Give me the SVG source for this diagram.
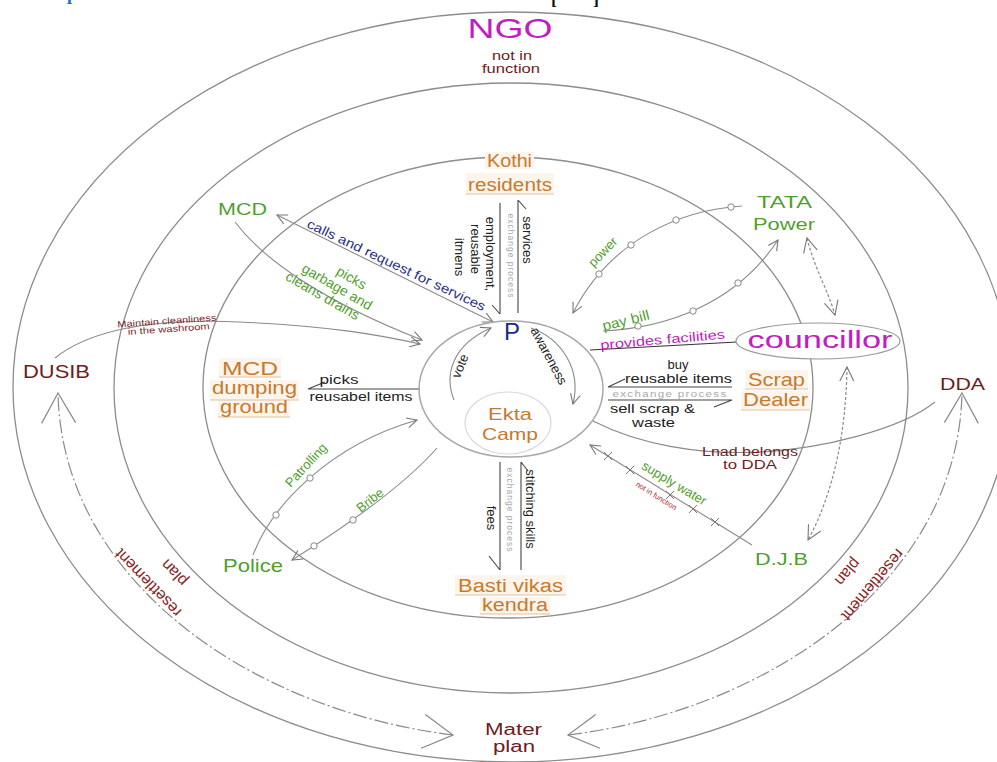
<svg xmlns="http://www.w3.org/2000/svg" width="997" height="762" viewBox="0 0 997 762">
<style>
text{font-family:"Liberation Sans",Arial,sans-serif}
.sf{font-family:"Liberation Serif","Times New Roman",serif;font-weight:bold}
.ring{fill:none;stroke:#8c8c8c;stroke-width:1.3}
.ln{fill:none;stroke:#8a8a8a;stroke-width:1.1}
.dk{fill:none;stroke:#444;stroke-width:1.1}
.dash{fill:none;stroke:#8a8a8a;stroke-width:1.2;stroke-dasharray:3 2}
.dd{fill:none;stroke:#8a8a8a;stroke-width:1.2;stroke-dasharray:14 3 2 3}
.dot{fill:#fff;stroke:#888;stroke-width:1}
.x{fill:none;stroke:#777;stroke-width:1}
.g{fill:#4f9f2f}
.o{fill:#c77a2c}
.r{fill:#6e1c1c}
.rr{fill:#8a2424}
.m{fill:#c21cc2}
.k{fill:#222}
.bl{fill:#1d2a8c}
.ex{fill:#aaa;font-size:8.5px;letter-spacing:1px}
.hl{fill:#fdf5ec}
.ul{stroke:#dfc2a2;stroke-width:1.1}
</style>
<defs>
<marker id="a" viewBox="0 0 12 12" refX="11" refY="6" markerWidth="12" markerHeight="12" markerUnits="userSpaceOnUse" orient="auto-start-reverse"><path d="M1,1 L11,6 L1,11" fill="none" stroke="#777" stroke-width="1.1"/></marker>
<marker id="m" viewBox="0 0 16 16" refX="15" refY="8" markerWidth="16" markerHeight="16" markerUnits="userSpaceOnUse" orient="auto-start-reverse"><path d="M1,1 L15,8 L1,15" fill="none" stroke="#777" stroke-width="1.1"/></marker>
<marker id="b" viewBox="0 0 32 40" refX="31" refY="20" markerWidth="32" markerHeight="40" markerUnits="userSpaceOnUse" orient="auto-start-reverse"><path d="M1,3 L31,20 L1,37" fill="none" stroke="#888" stroke-width="1.2"/></marker>
</defs>
<rect width="997" height="762" fill="#fff"/>
<text class="sf" x="67" y="0" font-size="18" fill="#1a6fc4">p</text>
<text class="sf" x="551" y="4" font-size="18" fill="#111">[</text>
<text class="sf" x="593" y="4" font-size="18" fill="#111">]</text>

<g id="rings">
<ellipse cx="512" cy="387" rx="499" ry="375" class="ring"/>
<ellipse cx="511" cy="388" rx="397" ry="305" class="ring"/>
<ellipse cx="508" cy="387.5" rx="305" ry="230.5" class="ring"/>
</g>

<g id="connectors">
<line x1="277" y1="215" x2="493" y2="322" class="ln" marker-start="url(#a)" marker-end="url(#a)"/>
<path d="M235 222 C262 258 320 300 422 340" class="ln" marker-end="url(#a)"/>
<path d="M55 358 C90 330 150 318 240 322 S380 335 420 344" class="ln" marker-end="url(#a)"/>
<path d="M420 389 H308 M308 389 L325 382" class="dk"/>
<path d="M500 203 V314 M492 305 L500 314" class="dk"/>
<path d="M518 200 V313 M518 200 L526 209" class="dk"/>
<path d="M500 462 V570 M489 556 L500 570" class="dk"/>
<path d="M521 462 V570 M521 462 L528 471" class="dk"/>
<path d="M608 387 H732 M608 387 L625 379" class="dk"/>
<path d="M608 400 H732 M732 400 L714 407" class="dk"/>
<line x1="590" y1="350" x2="737" y2="342" stroke="#333" stroke-width="1.2"/>
<path d="M454 400 C444 375 452 345 491 328" class="ln" marker-end="url(#a)"/>
<path d="M531 328 C560 338 582 368 573 404" class="ln" marker-end="url(#a)"/>
<path d="M742 206 C680 210 610 240 573 313" class="ln" marker-end="url(#a)"/>
<circle cx="731" cy="207" r="3.2" class="dot"/>
<circle cx="676" cy="220" r="3.2" class="dot"/>
<circle cx="631" cy="245" r="3.2" class="dot"/>
<circle cx="599" cy="274" r="3.2" class="dot"/>
<path d="M603 331 C665 328 735 305 778 240" class="ln" marker-end="url(#a)"/>
<circle cx="638" cy="326" r="3.2" class="dot"/>
<circle cx="693" cy="311" r="3.2" class="dot"/>
<circle cx="738" cy="283" r="3.2" class="dot"/>
<path d="M593 421 C640 445 700 455 760 452 S900 430 935 402" class="ln"/>
<line x1="752" y1="545" x2="590" y2="445" class="ln" marker-end="url(#a)"/>
<path d="M604 452 l8 8 M612 452 l-8 8 M626 466 l8 8 M634 466 l-8 8 M666 491 l8 8 M674 491 l-8 8 M689 505 l8 8 M697 505 l-8 8 M711 518 l8 8 M719 518 l-8 8" class="x"/>
<path d="M253 555 C272 505 330 445 417 420" class="ln" marker-end="url(#a)"/>
<circle cx="276" cy="515" r="3.2" class="dot"/>
<circle cx="310" cy="478" r="3.2" class="dot"/>
<path d="M437 448 C400 490 340 530 292 560" class="ln" marker-end="url(#a)"/>
<circle cx="353" cy="520" r="3.2" class="dot"/>
<circle cx="314" cy="546" r="3.2" class="dot"/>
<path d="M807 238 C815 270 828 290 835 315" class="dash" marker-start="url(#m)" marker-end="url(#m)"/>
<path d="M847 367 C846 430 835 490 808 540" class="dash" marker-start="url(#m)" marker-end="url(#m)"/>
<path d="M453 735 C250 710 62 580 58 393" class="dd" marker-start="url(#b)" marker-end="url(#b)"/>
<path d="M568 735 C770 710 958 580 962 393" class="dd" marker-start="url(#b)" marker-end="url(#b)"/>
</g>

<g id="p-circle">
<ellipse cx="511" cy="389" rx="92" ry="68" fill="none" stroke="#a8a8a8" stroke-width="1.5"/>
<text x="512" y="340" font-size="24" text-anchor="middle" class="bl">P</text>
</g>
<g id="ekta-camp">
<ellipse cx="508" cy="423" rx="43" ry="31" fill="none" stroke="#d8d8d8" stroke-width="1.2"/>
<text x="510" y="420" font-size="17" text-anchor="middle" textLength="44" lengthAdjust="spacingAndGlyphs" class="o">Ekta</text>
<text x="510" y="440" font-size="17" text-anchor="middle" textLength="56" lengthAdjust="spacingAndGlyphs" class="o">Camp</text>
</g>

<g id="ngo">
<text x="510" y="38" font-size="28" text-anchor="middle" textLength="85" lengthAdjust="spacingAndGlyphs" class="m">NGO</text>
<text x="512" y="60" font-size="12" text-anchor="middle" textLength="40" lengthAdjust="spacingAndGlyphs" class="r">not in</text>
<text x="511" y="73" font-size="12" text-anchor="middle" textLength="58" lengthAdjust="spacingAndGlyphs" class="r">function</text>
</g>

<g id="kothi">
<rect x="485" y="152" width="49" height="17" class="hl"/>
<rect x="466" y="173" width="88" height="21" class="hl"/>
<line x1="466" y1="194" x2="554" y2="194" class="ul"/>
<text x="509.5" y="167" font-size="18" text-anchor="middle" textLength="45" lengthAdjust="spacingAndGlyphs" class="o">Kothi</text>
<text x="510" y="191" font-size="18" text-anchor="middle" textLength="84" lengthAdjust="spacingAndGlyphs" class="o">residents</text>
</g>

<g id="mcd">
<text x="242.5" y="215" font-size="17" text-anchor="middle" textLength="49" lengthAdjust="spacingAndGlyphs" class="g">MCD</text>
</g>

<g id="tata">
<text x="784.5" y="208" font-size="16" text-anchor="middle" textLength="55" lengthAdjust="spacingAndGlyphs" class="g">TATA</text>
<text x="784" y="230" font-size="16" text-anchor="middle" textLength="62" lengthAdjust="spacingAndGlyphs" class="g">Power</text>
</g>

<g id="councillor">
<ellipse cx="818" cy="341" rx="82" ry="18" fill="#fff" stroke="#999" stroke-width="1.2"/>
<text x="820" y="348" font-size="23" text-anchor="middle" textLength="145" lengthAdjust="spacingAndGlyphs" class="m">councillor</text>
</g>

<g id="scrap">
<rect x="745" y="370" width="63" height="19" class="hl"/>
<rect x="741" y="391" width="69" height="19" class="hl"/>
<line x1="745" y1="389" x2="808" y2="389" class="ul"/>
<line x1="741" y1="410" x2="810" y2="410" class="ul"/>
<text x="776.5" y="386" font-size="19" text-anchor="middle" textLength="57" lengthAdjust="spacingAndGlyphs" class="o">Scrap</text>
<text x="775.5" y="406" font-size="19" text-anchor="middle" textLength="65" lengthAdjust="spacingAndGlyphs" class="o">Dealer</text>
</g>

<g id="dda">
<text x="962.5" y="390" font-size="17" text-anchor="middle" textLength="45" lengthAdjust="spacingAndGlyphs" class="r">DDA</text>
</g>

<g id="dusib">
<text x="56.5" y="378" font-size="18" text-anchor="middle" textLength="67" lengthAdjust="spacingAndGlyphs" class="r">DUSIB</text>
</g>

<g id="mcd-dump">
<rect x="219" y="358" width="62" height="19" class="hl"/>
<rect x="210" y="380" width="89" height="20" class="hl"/>
<rect x="218" y="400" width="72" height="17" class="hl"/>
<line x1="219" y1="377" x2="281" y2="377" class="ul"/>
<line x1="210" y1="400" x2="299" y2="400" class="ul"/>
<line x1="218" y1="417" x2="290" y2="417" class="ul"/>
<text x="250" y="375" font-size="18" text-anchor="middle" textLength="56" lengthAdjust="spacingAndGlyphs" class="o">MCD</text>
<text x="254.5" y="394" font-size="18" text-anchor="middle" textLength="85" lengthAdjust="spacingAndGlyphs" class="o">dumping</text>
<text x="254" y="413" font-size="18" text-anchor="middle" textLength="68" lengthAdjust="spacingAndGlyphs" class="o">ground</text>
</g>

<g id="police">
<text x="253" y="572" font-size="19" text-anchor="middle" textLength="60" lengthAdjust="spacingAndGlyphs" class="g">Police</text>
</g>

<g id="djb">
<text x="781.5" y="565" font-size="17" text-anchor="middle" textLength="53" lengthAdjust="spacingAndGlyphs" class="g">D.J.B</text>
</g>

<g id="basti">
<rect x="455" y="575" width="111" height="20" class="hl"/>
<rect x="480" y="597" width="70" height="17" class="hl"/>
<line x1="455" y1="595" x2="566" y2="595" class="ul"/>
<line x1="480" y1="614" x2="550" y2="614" class="ul"/>
<text x="510.5" y="592" font-size="18" text-anchor="middle" textLength="105" lengthAdjust="spacingAndGlyphs" class="o">Basti vikas</text>
<text x="515" y="611" font-size="18" text-anchor="middle" textLength="66" lengthAdjust="spacingAndGlyphs" class="o">kendra</text>
</g>

<g id="mater">
<text x="513.5" y="735" font-size="16" text-anchor="middle" textLength="57" lengthAdjust="spacingAndGlyphs" class="r">Mater</text>
<text x="514" y="752" font-size="16" text-anchor="middle" textLength="42" lengthAdjust="spacingAndGlyphs" class="r">plan</text>
</g>

<g id="labels">
<text transform="translate(306,227) rotate(25.5)" font-size="13" textLength="196" lengthAdjust="spacingAndGlyphs" fill="#2b2f86">calls and request for services</text>
<g transform="translate(337,287) rotate(30)" font-size="14" text-anchor="middle">
<text x="8" y="-10.5" class="g">picks</text>
<text x="0" y="4.5" class="g">garbage and</text>
<text x="-8" y="19.5" class="g">cleans drains</text>
</g>
<text transform="translate(167,324) rotate(-4)" font-size="9" text-anchor="middle" textLength="99" lengthAdjust="spacingAndGlyphs" fill="#7a1f2a">Maintain cleanliness</text>
<text transform="translate(169,332) rotate(-4)" font-size="9" text-anchor="middle" textLength="82" lengthAdjust="spacingAndGlyphs" fill="#7a1f2a">in the washroom</text>
<text x="339" y="384" font-size="12" text-anchor="middle" textLength="39" lengthAdjust="spacingAndGlyphs" class="k">picks</text>
<text x="361" y="401" font-size="12" text-anchor="middle" textLength="103" lengthAdjust="spacingAndGlyphs" class="k">reusabel items</text>
<text x="678" y="369" font-size="13" text-anchor="middle" class="k">buy</text>
<text x="678.5" y="383" font-size="13" text-anchor="middle" textLength="107" lengthAdjust="spacingAndGlyphs" class="k">reusable items</text>
<text x="670" y="397" text-anchor="middle" textLength="115" lengthAdjust="spacingAndGlyphs" class="ex">exchange process</text>
<text x="652.5" y="413" font-size="13" text-anchor="middle" textLength="85" lengthAdjust="spacingAndGlyphs" class="k">sell scrap &amp;</text>
<text x="653.5" y="427" font-size="13" text-anchor="middle" textLength="43" lengthAdjust="spacingAndGlyphs" class="k">waste</text>
<text transform="translate(663,344) rotate(-5)" font-size="13" text-anchor="middle" textLength="125" lengthAdjust="spacingAndGlyphs" class="m">provides facilities</text>
<text transform="translate(627,325) rotate(-14)" font-size="14" text-anchor="middle" textLength="48" lengthAdjust="spacingAndGlyphs" class="g">pay bill</text>
<text transform="translate(606,255) rotate(-46)" font-size="13" text-anchor="middle" class="g">power</text>
<text x="750" y="456" font-size="12" text-anchor="middle" textLength="96" lengthAdjust="spacingAndGlyphs" class="r">Lnad belongs</text>
<text x="750" y="469" font-size="12" text-anchor="middle" textLength="54" lengthAdjust="spacingAndGlyphs" class="r">to DDA</text>
<text transform="translate(672,487) rotate(31)" font-size="13" text-anchor="middle" class="g">supply water</text>
<text transform="translate(655,498) rotate(32)" font-size="7.5" text-anchor="middle" fill="#b3262a">not in function</text>
<text transform="translate(460,366) rotate(-68)" font-size="13" text-anchor="middle" dominant-baseline="central" class="k">vote</text>
<text transform="translate(549,356) rotate(62)" font-size="13" text-anchor="middle" dominant-baseline="central" class="k">awareness</text>
<text transform="translate(527,240) rotate(90)" font-size="13" text-anchor="middle" dominant-baseline="central" class="k">services</text>
<text transform="translate(511,256) rotate(90)" text-anchor="middle" dominant-baseline="central" class="ex">exchange process</text>
<text transform="translate(490,254) rotate(90)" font-size="13" text-anchor="middle" dominant-baseline="central" class="k">employment,</text>
<text transform="translate(475,249) rotate(90)" font-size="13" text-anchor="middle" dominant-baseline="central" class="k">reusable</text>
<text transform="translate(459,257) rotate(90)" font-size="13" text-anchor="middle" dominant-baseline="central" class="k">itmens</text>
<text transform="translate(530,509) rotate(90)" font-size="13" text-anchor="middle" dominant-baseline="central" class="k">stitching skills</text>
<text transform="translate(510,510) rotate(90)" text-anchor="middle" dominant-baseline="central" class="ex">exchange process</text>
<text transform="translate(491,518) rotate(90)" font-size="13" text-anchor="middle" dominant-baseline="central" class="k">fees</text>
<text transform="translate(306,465) rotate(-47)" font-size="13" text-anchor="middle" dominant-baseline="central" class="g">Patrolling</text>
<text transform="translate(370,500) rotate(-38)" font-size="13" text-anchor="middle" dominant-baseline="central" class="g">Bribe</text>
<text transform="translate(148,583) rotate(-134)" font-size="16" text-anchor="middle" dominant-baseline="central" class="rr">resettlement</text>
<text transform="translate(174,573) rotate(-134)" font-size="16" text-anchor="middle" dominant-baseline="central" class="rr">plan</text>
<text transform="translate(873,585) rotate(130)" font-size="16" text-anchor="middle" dominant-baseline="central" class="rr">resettlement</text>
<text transform="translate(848,572) rotate(130)" font-size="16" text-anchor="middle" dominant-baseline="central" class="rr">plan</text>
</g>
</svg>
